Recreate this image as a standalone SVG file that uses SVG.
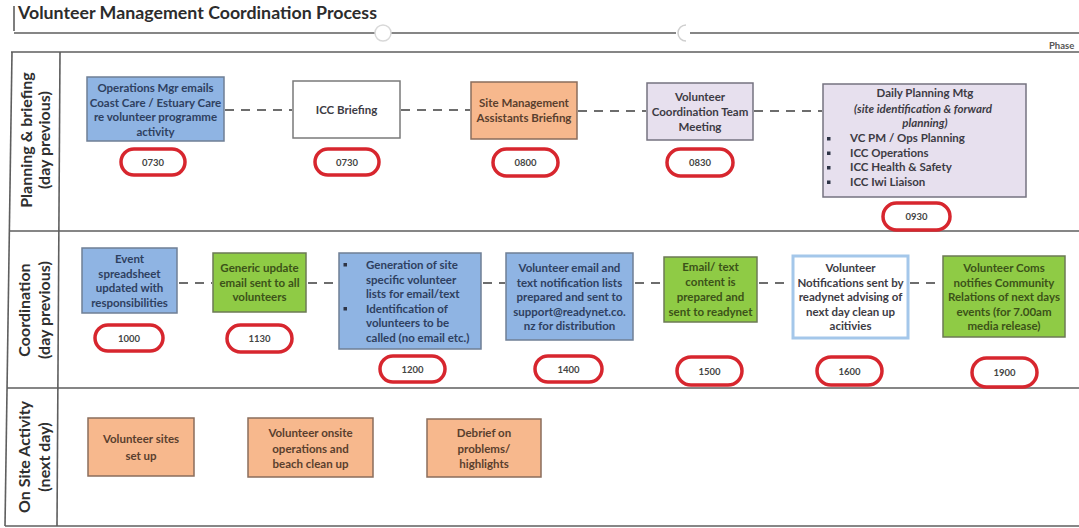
<svg xmlns="http://www.w3.org/2000/svg" width="1079" height="528" viewBox="0 0 1079 528">
<style>
  .frame{stroke:#5e5e5e;stroke-width:1.6;fill:none}
  .lane{font-family:Lato,"Liberation Sans",sans-serif;font-weight:700;font-size:16px;fill:#2f2f2f;text-anchor:middle}
  .t{font-family:Lato,"Liberation Sans",sans-serif;font-weight:700;font-size:11.5px;text-anchor:middle}
  .tl{font-family:Lato,"Liberation Sans",sans-serif;font-weight:700;font-size:11.5px;text-anchor:start}
  .it{font-style:italic}
  .blue{fill:#8fb4e3;stroke:#6f7f95;stroke-width:1.5}
  .green{fill:#8fcb45;stroke:#6c7a55;stroke-width:1.5}
  .orange{fill:#f7b88d;stroke:#8a6d5c;stroke-width:1.5}
  .lav{fill:#e7e0ee;stroke:#757380;stroke-width:1.5}
  .white{fill:#ffffff;stroke:#7a7a7a;stroke-width:1.5}
  .wblue{fill:#ffffff;stroke:#a4c7ea;stroke-width:3}
  .tb{fill:#2e4060}
  .tg{fill:#3c5219}
  .to{fill:#5a3f2e}
  .tk{fill:#3d3b44}
  .pill{fill:#ffffff;stroke:#d7262e;stroke-width:3.5}
  .pt{font-family:Lato,"Liberation Sans",sans-serif;font-weight:700;font-size:9.5px;fill:#444;text-anchor:middle}
  .dash{stroke:#6d6d6d;stroke-width:2;stroke-dasharray:9 7;fill:none}
  .bul{fill:#2e3446}
</style>
<rect x="0" y="0" width="1079" height="528" fill="#ffffff"/>

<g id="frame">
  <text x="18" y="19" font-family="Lato, 'Liberation Sans', sans-serif" font-weight="700" font-size="16.5" fill="#2c2c2c" textLength="359" lengthAdjust="spacingAndGlyphs">Volunteer Management Coordination Process</text>
  <line class="frame" x1="14" y1="6" x2="14" y2="31"/>
  <line class="frame" x1="14" y1="33" x2="375" y2="33"/>
  <line class="frame" x1="391" y1="33" x2="676" y2="33"/>
  <line class="frame" x1="690" y1="33" x2="1079" y2="33"/>
  <circle cx="383" cy="33" r="8" fill="#ffffff" stroke="#d8d8d8" stroke-width="1.5"/>
  <path d="M686 25 A8 8 0 0 0 686 41" fill="none" stroke="#cfcfcf" stroke-width="1.5"/>
  <text x="1049" y="49" font-family="Lato, 'Liberation Sans', sans-serif" font-weight="700" font-size="9.5" fill="#555">Phase</text>
  <line class="frame" x1="11" y1="52" x2="1079" y2="52"/>
  <line class="frame" x1="9" y1="231" x2="1079" y2="231"/>
  <line class="frame" x1="7" y1="388" x2="1079" y2="388"/>
  <line class="frame" x1="5" y1="526" x2="1079" y2="526"/>
  <line class="frame" x1="12" y1="52" x2="5" y2="526"/>
  <line class="frame" x1="60" y1="52" x2="57" y2="526"/>
</g>

<g id="lane-labels">
  <text class="lane" transform="translate(32,140) rotate(-90)">Planning &amp; briefing</text>
  <text class="lane" transform="translate(50,140) rotate(-90)">(day previous)</text>
  <text class="lane" transform="translate(30,310) rotate(-90)">Coordination</text>
  <text class="lane" transform="translate(50,310) rotate(-90)">(day previous)</text>
  <text class="lane" transform="translate(30,457) rotate(-90)">On Site Activity</text>
  <text class="lane" transform="translate(50,457) rotate(-90)">(next day)</text>
</g>

<g id="connectors">
  <line class="dash" x1="225" y1="110" x2="292" y2="110"/>
  <line class="dash" x1="401" y1="110" x2="470" y2="110"/>
  <line class="dash" x1="578" y1="111" x2="646" y2="111"/>
  <line class="dash" x1="754" y1="111" x2="822" y2="111"/>
  <line class="dash" x1="179" y1="283" x2="212" y2="283"/>
  <line class="dash" x1="308" y1="283" x2="338" y2="283"/>
  <line class="dash" x1="483" y1="283" x2="505" y2="283"/>
  <line class="dash" x1="635" y1="283" x2="663" y2="283"/>
  <line class="dash" x1="759" y1="283" x2="791" y2="283"/>
  <line class="dash" x1="910" y1="283" x2="942" y2="283"/>
</g>

<g id="ops-mgr-emails">
  <rect class="blue" x="87" y="77" width="137" height="64"/>
  <text class="t tb" x="155.5" y="92">Operations Mgr emails</text>
  <text class="t tb" x="155.5" y="106.5">Coast Care / Estuary Care</text>
  <text class="t tb" x="155.5" y="121">re volunteer programme</text>
  <text class="t tb" x="155.5" y="135.5">activity</text>
  <rect class="pill" x="121" y="149" width="64" height="26" rx="13"/>
  <text class="pt" x="153" y="165.5">0730</text>
</g>

<g id="icc-briefing">
  <rect class="white" x="293" y="81" width="107" height="57"/>
  <text class="t tk" x="346.5" y="113.5">ICC Briefing</text>
  <rect class="pill" x="315" y="149" width="64" height="26" rx="13"/>
  <text class="pt" x="347" y="165.5">0730</text>
</g>

<g id="site-mgmt-briefing">
  <rect class="orange" x="471" y="82" width="106" height="57"/>
  <text class="t to" x="524" y="107">Site Management</text>
  <text class="t to" x="524" y="122">Assistants Briefing</text>
  <rect class="pill" x="493" y="149" width="65" height="27" rx="13.5"/>
  <text class="pt" x="525.5" y="166">0800</text>
</g>

<g id="vol-coord-team">
  <rect class="lav" x="647" y="83" width="106" height="57"/>
  <text class="t tk" x="700" y="101">Volunteer</text>
  <text class="t tk" x="700" y="116">Coordination Team</text>
  <text class="t tk" x="700" y="130.5">Meeting</text>
  <rect class="pill" x="667" y="149" width="66" height="27" rx="13.5"/>
  <text class="pt" x="700" y="166">0830</text>
</g>

<g id="daily-planning">
  <rect class="lav" x="823" y="84" width="203" height="113"/>
  <text class="t tk" x="925" y="97">Daily Planning Mtg</text>
  <text class="t tk it" x="923" y="113">(site identification &amp; forward</text>
  <text class="t tk it" x="925" y="126.5">planning)</text>
  <rect class="bul" x="827" y="137" width="3.5" height="3.5"/>
  <text class="tl tk" x="850" y="142">VC PM / Ops Planning</text>
  <rect class="bul" x="827" y="151.5" width="3.5" height="3.5"/>
  <text class="tl tk" x="850" y="156.5">ICC Operations</text>
  <rect class="bul" x="827" y="166" width="3.5" height="3.5"/>
  <text class="tl tk" x="850" y="171">ICC Health &amp; Safety</text>
  <rect class="bul" x="827" y="180.5" width="3.5" height="3.5"/>
  <text class="tl tk" x="850" y="185.5">ICC Iwi Liaison</text>
  <rect class="pill" x="883" y="203" width="67" height="27" rx="13.5"/>
  <text class="pt" x="916.5" y="220">0930</text>
</g>

<g id="event-spreadsheet">
  <rect class="blue" x="82" y="248" width="95" height="65"/>
  <text class="t tb" x="129.5" y="263">Event</text>
  <text class="t tb" x="129.5" y="277.5">spreadsheet</text>
  <text class="t tb" x="129.5" y="292">updated with</text>
  <text class="t tb" x="129.5" y="306.5">responsibilities</text>
  <rect class="pill" x="95" y="325" width="68" height="26" rx="13"/>
  <text class="pt" x="129" y="341.5">1000</text>
</g>

<g id="generic-update">
  <rect class="green" x="213" y="253" width="93" height="59"/>
  <text class="t tg" x="259.5" y="272">Generic update</text>
  <text class="t tg" x="259.5" y="286.5">email sent to all</text>
  <text class="t tg" x="259.5" y="301">volunteers</text>
  <rect class="pill" x="227" y="325" width="65" height="27" rx="13.5"/>
  <text class="pt" x="259.5" y="342">1130</text>
</g>

<g id="site-lists">
  <rect class="blue" x="339" y="253" width="142" height="96"/>
  <rect class="bul" x="343.5" y="263" width="3.5" height="3.5"/>
  <text class="tl tb" x="366" y="269">Generation of site</text>
  <text class="tl tb" x="366" y="283.5">specific volunteer</text>
  <text class="tl tb" x="366" y="298">lists for email/text</text>
  <rect class="bul" x="343.5" y="307" width="3.5" height="3.5"/>
  <text class="tl tb" x="366" y="312.5">Identification of</text>
  <text class="tl tb" x="366" y="327">volunteers to be</text>
  <text class="tl tb" x="366" y="341.5">called (no email etc.)</text>
  <rect class="pill" x="380" y="356" width="65" height="26" rx="13"/>
  <text class="pt" x="412.5" y="372.5">1200</text>
</g>

<g id="notification-lists">
  <rect class="blue" x="506" y="253" width="127" height="87"/>
  <text class="t tb" x="569.5" y="272">Volunteer email and</text>
  <text class="t tb" x="569.5" y="286.5">text notification lists</text>
  <text class="t tb" x="569.5" y="301">prepared and sent to</text>
  <text class="t tb" x="569.5" y="315.5">support@readynet.co.</text>
  <text class="t tb" x="569.5" y="330">nz for distribution</text>
  <rect class="pill" x="535" y="356" width="67" height="26" rx="13"/>
  <text class="pt" x="568.5" y="372.5">1400</text>
</g>

<g id="text-content">
  <rect class="green" x="664" y="257" width="93" height="65"/>
  <text class="t tg" x="710.5" y="271">Email/ text</text>
  <text class="t tg" x="710.5" y="286">content is</text>
  <text class="t tg" x="710.5" y="301">prepared and</text>
  <text class="t tg" x="710.5" y="316">sent to readynet</text>
  <rect class="pill" x="677" y="357" width="65" height="28" rx="14"/>
  <text class="pt" x="709.5" y="374.5">1500</text>
</g>

<g id="notifications-sent">
  <rect class="wblue" x="793" y="256" width="115" height="82"/>
  <text class="t tk" x="850.5" y="272">Volunteer</text>
  <text class="t tk" x="850.5" y="286.5">Notifications sent by</text>
  <text class="t tk" x="850.5" y="301">readynet advising of</text>
  <text class="t tk" x="850.5" y="315.5">next day clean up</text>
  <text class="t tk" x="850.5" y="330">acitivies</text>
  <rect class="pill" x="817" y="357" width="65" height="28" rx="14"/>
  <text class="pt" x="849.5" y="374.5">1600</text>
</g>

<g id="vol-coms">
  <rect class="green" x="943" y="256" width="122" height="81"/>
  <text class="t tg" x="1004" y="272">Volunteer Coms</text>
  <text class="t tg" x="1004" y="286.5">notifies Community</text>
  <text class="t tg" x="1004" y="301">Relations of next days</text>
  <text class="t tg" x="1004" y="315.5">events (for 7.00am</text>
  <text class="t tg" x="1004" y="330">media release)</text>
  <rect class="pill" x="972" y="358" width="65" height="29" rx="14.5"/>
  <text class="pt" x="1004.5" y="376">1900</text>
</g>

<g id="sites-set-up">
  <rect class="orange" x="88" y="418" width="106" height="58"/>
  <text class="t to" x="141" y="443">Volunteer sites</text>
  <text class="t to" x="141" y="460">set up</text>
</g>

<g id="onsite-operations">
  <rect class="orange" x="248" y="418" width="125" height="59"/>
  <text class="t to" x="310.5" y="437">Volunteer onsite</text>
  <text class="t to" x="310.5" y="452.5">operations and</text>
  <text class="t to" x="310.5" y="468">beach clean up</text>
</g>

<g id="debrief">
  <rect class="orange" x="427" y="419" width="114" height="58"/>
  <text class="t to" x="484" y="437">Debrief on</text>
  <text class="t to" x="484" y="452.5">problems/</text>
  <text class="t to" x="484" y="468">highlights</text>
</g>
</svg>
